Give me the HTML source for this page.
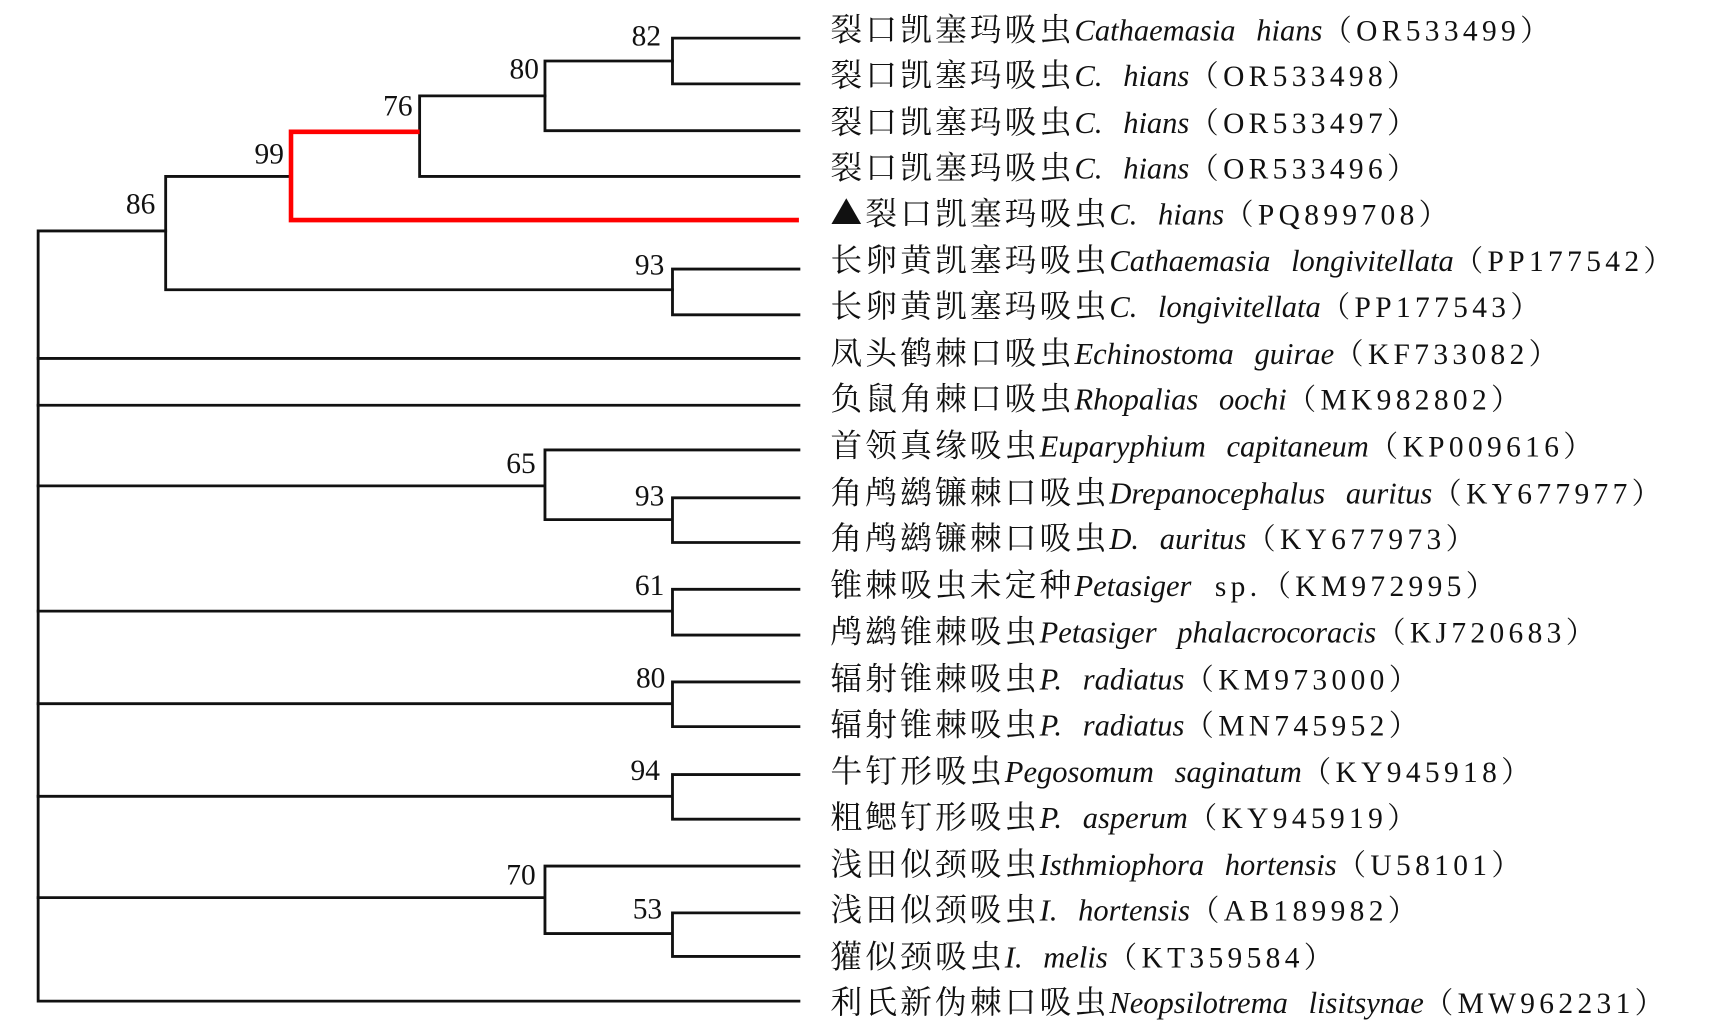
<!DOCTYPE html>
<html><head><meta charset="utf-8"><style>html,body{margin:0;padding:0;background:#fff}svg{display:block}text{white-space:pre}.c{letter-spacing:3px;font-family:"Noto Serif CJK SC",serif;font-size:29px}.i{font-style:italic;font-size:28px;word-spacing:12px}.d{letter-spacing:4px;font-size:27px}</style></head>
<body>
<svg width="1709" height="1024" viewBox="0 0 1568 940" preserveAspectRatio="none" xmlns="http://www.w3.org/2000/svg">
<g fill="none" stroke="#111" stroke-width="2.6" stroke-linecap="square">
<path d="M617 35H733M617 77H733M617 35V77"/>
<path d="M500 56H617M500 120H733M500 56V120"/>
<path d="M385 88H500M385 162H733M385 88V162"/>
<path d="M152 162H267M152 266H617M152 162V266"/>
<path d="M617 247H733M617 289H733M617 247V289"/>
<path d="M35 212H152M35 212V919M35 919H733"/>
<path d="M35 329H733M35 372H733"/>
<path d="M35 446H500M500 413H733M500 413V477M500 477H617M617 457H733M617 498H733M617 457V498"/>
<path d="M35 561H617M617 541H733M617 583H733M617 541V583"/>
<path d="M35 646H617M617 626H733M617 667H733M617 626V667"/>
<path d="M35 731H617M617 711H733M617 752H733M617 711V752"/>
<path d="M35 824H500M500 795H733M500 795V857M500 857H617M617 838H733M617 878H733M617 838V878"/>
</g>
<path d="M385 121H267V202H733" fill="none" stroke="#f00" stroke-width="4.2"/>
<g font-family="Liberation Serif, serif" font-size="27" fill="#111" text-anchor="middle">
<text x="593" y="42">82</text>
<text x="481" y="72">80</text>
<text x="365" y="106">76</text>
<text x="247" y="150">99</text>
<text x="129" y="196">86</text>
<text x="596" y="252">93</text>
<text x="478" y="434">65</text>
<text x="596" y="464">93</text>
<text x="596" y="546">61</text>
<text x="597" y="631">80</text>
<text x="592" y="716">94</text>
<text x="478" y="812">70</text>
<text x="594" y="843">53</text>
</g>
<g font-family="Liberation Serif, 'Noto Serif CJK SC', serif" font-size="26" fill="#111" transform="translate(0,-7)">
<text x="762" y="44"><tspan class="c">裂口凯塞玛吸虫</tspan><tspan class="i">Cathaemasia hians</tspan><tspan class="d">（OR533499）</tspan></text>
<text x="762" y="86"><tspan class="c">裂口凯塞玛吸虫</tspan><tspan class="i">C. hians</tspan><tspan class="d">（OR533498）</tspan></text>
<text x="762" y="129"><tspan class="c">裂口凯塞玛吸虫</tspan><tspan class="i">C. hians</tspan><tspan class="d">（OR533497）</tspan></text>
<text x="762" y="171"><tspan class="c">裂口凯塞玛吸虫</tspan><tspan class="i">C. hians</tspan><tspan class="d">（OR533496）</tspan></text>
<text x="762" y="213"><tspan class="c">▲裂口凯塞玛吸虫</tspan><tspan class="i">C. hians</tspan><tspan class="d">（PQ899708）</tspan></text>
<text x="762" y="256"><tspan class="c">长卵黄凯塞玛吸虫</tspan><tspan class="i">Cathaemasia longivitellata</tspan><tspan class="d">（PP177542）</tspan></text>
<text x="762" y="298"><tspan class="c">长卵黄凯塞玛吸虫</tspan><tspan class="i">C. longivitellata</tspan><tspan class="d">（PP177543）</tspan></text>
<text x="762" y="341"><tspan class="c">凤头鹤棘口吸虫</tspan><tspan class="i">Echinostoma guirae</tspan><tspan class="d">（KF733082）</tspan></text>
<text x="762" y="383"><tspan class="c">负鼠角棘口吸虫</tspan><tspan class="i">Rhopalias oochi</tspan><tspan class="d">（MK982802）</tspan></text>
<text x="762" y="426"><tspan class="c">首领真缘吸虫</tspan><tspan class="i">Euparyphium capitaneum</tspan><tspan class="d">（KP009616）</tspan></text>
<text x="762" y="469"><tspan class="c">角鸬鹚镰棘口吸虫</tspan><tspan class="i">Drepanocephalus auritus</tspan><tspan class="d">（KY677977）</tspan></text>
<text x="762" y="511"><tspan class="c">角鸬鹚镰棘口吸虫</tspan><tspan class="i">D. auritus</tspan><tspan class="d">（KY677973）</tspan></text>
<text x="762" y="554"><tspan class="c">锥棘吸虫未定种</tspan><tspan class="i">Petasiger</tspan><tspan class="d">  sp.（KM972995）</tspan></text>
<text x="762" y="597"><tspan class="c">鸬鹚锥棘吸虫</tspan><tspan class="i">Petasiger phalacrocoracis</tspan><tspan class="d">（KJ720683）</tspan></text>
<text x="762" y="640"><tspan class="c">辐射锥棘吸虫</tspan><tspan class="i">P. radiatus</tspan><tspan class="d">（KM973000）</tspan></text>
<text x="762" y="682"><tspan class="c">辐射锥棘吸虫</tspan><tspan class="i">P. radiatus</tspan><tspan class="d">（MN745952）</tspan></text>
<text x="762" y="725"><tspan class="c">牛钉形吸虫</tspan><tspan class="i">Pegosomum saginatum</tspan><tspan class="d">（KY945918）</tspan></text>
<text x="762" y="767"><tspan class="c">粗鳃钉形吸虫</tspan><tspan class="i">P. asperum</tspan><tspan class="d">（KY945919）</tspan></text>
<text x="762" y="810"><tspan class="c">浅田似颈吸虫</tspan><tspan class="i">Isthmiophora hortensis</tspan><tspan class="d">（U58101）</tspan></text>
<text x="762" y="852"><tspan class="c">浅田似颈吸虫</tspan><tspan class="i">I. hortensis</tspan><tspan class="d">（AB189982）</tspan></text>
<text x="762" y="895"><tspan class="c">獾似颈吸虫</tspan><tspan class="i">I. melis</tspan><tspan class="d">（KT359584）</tspan></text>
<text x="762" y="937"><tspan class="c">利氏新伪棘口吸虫</tspan><tspan class="i">Neopsilotrema lisitsynae</tspan><tspan class="d">（MW962231）</tspan></text>
</g>
</svg>
</body></html>
